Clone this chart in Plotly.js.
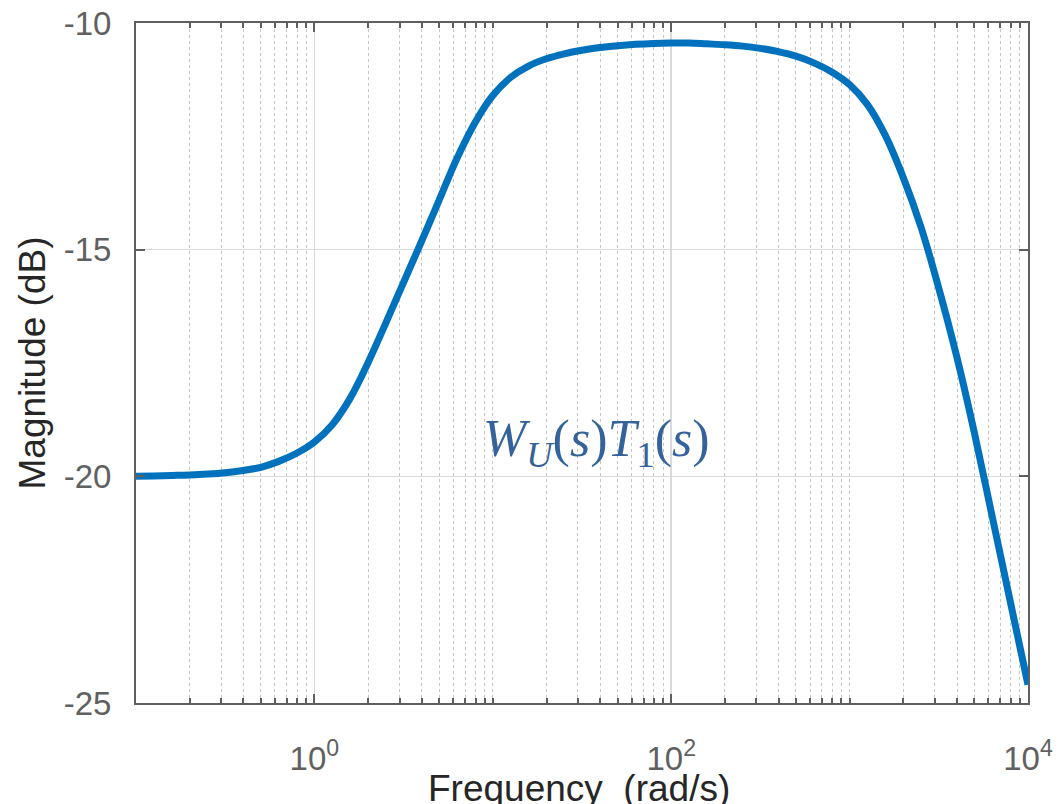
<!DOCTYPE html>
<html>
<head>
<meta charset="utf-8">
<script src="https://cdn.plot.ly/plotly-3.0.1.min.js"></script>
<style>html,body{margin:0;padding:0;background:#fff;}#chart{width:1059px;height:804px;}</style>
</head>
<body>
<div id="chart"></div>
<script>
// Frequency (rad/s) and magnitude (dB)
const freq = [0.1, 0.1259, 0.1585, 0.1995, 0.2512, 0.3162, 0.3981, 0.5012, 0.631, 0.7943,
  1, 1.259, 1.585, 1.995, 2.512, 3.162, 3.981, 5.012, 6.31, 7.943,
  10, 12.59, 15.85, 19.95, 25.12, 31.62, 39.81, 50.12, 63.1, 79.43,
  100, 125.9, 158.5, 199.5, 251.2, 316.2, 398.1, 501.2, 631, 794.3,
  1000, 1259, 1585, 1995, 2512, 3162, 3981, 5012, 6310, 7943, 10000];
const magDb = [-20.00, -19.99, -19.98, -19.97, -19.95, -19.92, -19.87, -19.80, -19.67, -19.49,
  -19.24, -18.86, -18.28, -17.50, -16.62, -15.72, -14.82, -13.90, -12.98, -12.20,
  -11.60, -11.20, -10.95, -10.79, -10.68, -10.60, -10.54, -10.50, -10.47, -10.45,
  -10.44, -10.44, -10.46, -10.48, -10.51, -10.56, -10.63, -10.73, -10.88, -11.08,
  -11.36, -11.80, -12.48, -13.40, -14.50, -15.85, -17.35, -19.05, -20.90, -22.75, -24.60];

const xMajorVals = [1, 100, 10000];
const xMajorText = ['10<sup>0</sup>', '10<sup>2</sup>', '10<sup>4</sup>'];
const xMinorVals = [];
[0.1, 1, 10, 100, 1000].forEach(function (d) {
  for (let k = 1; k <= 9; k++) xMinorVals.push(d * k);
});
const yTickVals = [-25, -20, -15, -10];
const yTickText = ['-25', '-20', '-15', '-10'];
const xTitle = 'Frequency\u00a0\u00a0(rad/s)';
const yTitle = 'Magnitude (dB)';
const curveLabel = '<i>W</i><sub><i>U</i></sub>(<i>s</i>)<i>T</i><sub>1</sub>(<i>s</i>)';

const axisColor = '#5f5f5f';
const tickFont = {family: 'Liberation Sans, Arial, sans-serif', size: 33, color: '#606060'};
const titleFont = {family: 'Liberation Sans, Arial, sans-serif', size: 37, color: '#262626'};

const trace = {
  x: freq, y: magDb, type: 'scatter', mode: 'lines',
  line: {color: '#0072BD', width: 7, shape: 'spline', smoothing: 1},
  hoverinfo: 'x+y', showlegend: false
};

const layout = {
  width: 1059, height: 804,
  margin: {l: 136, r: 31, t: 23, b: 101},
  paper_bgcolor: '#ffffff', plot_bgcolor: '#ffffff',
  xaxis: {
    type: 'log', range: [-1, 4], autorange: false,
    tickmode: 'array', tickvals: xMajorVals, ticktext: xMajorText,
    ticks: 'inside', ticklen: 9, tickwidth: 2, tickcolor: axisColor,
    showline: true, linecolor: axisColor, linewidth: 2, mirror: 'ticks',
    showgrid: true, gridcolor: '#dadada', gridwidth: 1.5, zeroline: false,
    tickfont: tickFont, ticklabelstandoff: 25,
    minor: {tickmode: 'array', tickvals: xMinorVals, ticks: 'inside', ticklen: 5, tickwidth: 2, tickcolor: axisColor,
            showgrid: true, gridcolor: '#c4c4c4', griddash: 'dot', gridwidth: 1}
  },
  yaxis: {
    range: [-25, -10], autorange: false,
    tickmode: 'array', tickvals: yTickVals, ticktext: yTickText,
    ticks: 'inside', ticklen: 9, tickwidth: 2, tickcolor: axisColor,
    showline: true, linecolor: axisColor, linewidth: 2, mirror: 'ticks',
    showgrid: true, gridcolor: '#dadada', gridwidth: 1.5, zeroline: false,
    tickfont: tickFont, ticklabelstandoff: 16,
    title: {text: yTitle, font: titleFont, standoff: 7}
  },
  annotations: [{
    x: 1.58, y: -19.25, xref: 'x', yref: 'y', showarrow: false,
    text: curveLabel,
    font: {family: 'Liberation Serif, Times New Roman, serif', size: 52, color: '#34629a'},
    xanchor: 'center', yanchor: 'middle'
  }, {
    x: 0.497, y: -0.126, xref: 'paper', yref: 'paper', showarrow: false,
    text: xTitle, font: titleFont, xanchor: 'center', yanchor: 'middle'
  }]
};

Plotly.newPlot('chart', [trace], layout, {displayModeBar: false, staticPlot: true});
</script>
</body>
</html>
